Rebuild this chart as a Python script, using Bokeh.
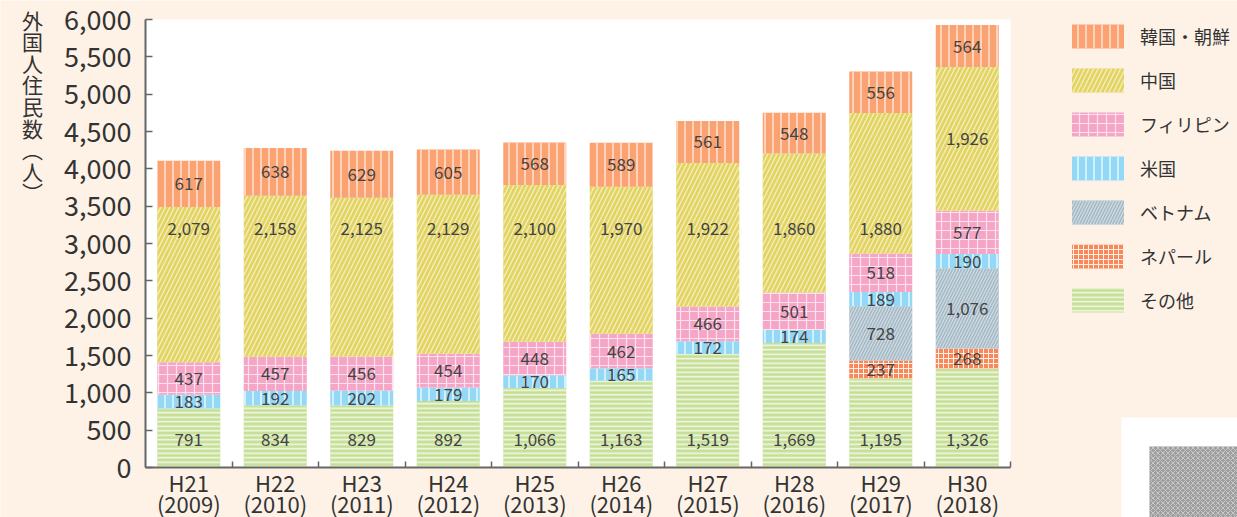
import numpy as np
from bokeh.plotting import figure
from bokeh.models import (Range1d, FixedTicker, NumeralTickFormatter, Legend,
                          LegendItem, Label, ColumnDataSource, BoxAnnotation)
from bokeh.core.properties import value
from bokeh.embed import file_html
from bokeh.resources import INLINE

# ---------------- data ----------------
eras = ["H21", "H22", "H23", "H24", "H25", "H26", "H27", "H28", "H29", "H30"]
years = ["2009", "2010", "2011", "2012", "2013", "2014", "2015", "2016", "2017", "2018"]

# stacking order bottom -> top
series = ["その他", "ネパール", "ベトナム", "米国", "フィリピン", "中国", "韓国・朝鮮"]
other = [791, 834, 829, 892, 1066, 1163, 1519, 1669, 1195, 1326]
nepal = [0, 0, 0, 0, 0, 0, 0, 0, 237, 268]
vietnam = [0, 0, 0, 0, 0, 0, 0, 0, 728, 1076]
usa = [183, 192, 202, 179, 170, 165, 172, 174, 189, 190]
philippines = [437, 457, 456, 454, 448, 462, 466, 501, 518, 577]
china = [2079, 2158, 2125, 2129, 2100, 1970, 1922, 1860, 1880, 1926]
korea = [617, 638, 629, 605, 568, 589, 561, 548, 556, 564]
values = [other, nepal, vietnam, usa, philippines, china, korea]

legend_order = ["韓国・朝鮮", "中国", "フィリピン", "米国", "ベトナム", "ネパール", "その他"]
y_ticks = [0, 500, 1000, 1500, 2000, 2500, 3000, 3500, 4000, 4500, 5000, 5500, 6000]
y_title = "外国人住民数︵人︶"

# ---------------- styles / layout ----------------
FONT = "Noto Sans CJK JP"
BG = "#FEF2E7"
TXT = "#333333"
W, H = 1237, 517
PLOT_L, PLOT_R, PLOT_T, PLOT_B = 145, 1010, 19, 467   # white plotting area in px
styles = {
    "韓国・朝鮮": dict(fill_color="#FBA272", hatch_color="#FED3BA", hatch_pattern="vertical_line", hatch_scale=8, hatch_weight=2.0),
    "中国": dict(fill_color="#E2D462", hatch_color="#F5EEBE", hatch_pattern="right_diagonal_line", hatch_scale=9, hatch_weight=1.3),
    "フィリピン": dict(fill_color="#F5A5C6", hatch_color="#FCE2EE", hatch_pattern="cross", hatch_scale=9, hatch_weight=1.2),
    "米国": dict(fill_color="#93D8F6", hatch_color="#D0F0FC", hatch_pattern="vertical_line", hatch_scale=8, hatch_weight=2.0),
    "ベトナム": dict(fill_color="#A5B9C5", hatch_color="#D3DEE5", hatch_pattern="right_diagonal_line", hatch_scale=6, hatch_weight=1.1),
    "ネパール": dict(fill_color="#F8875A", hatch_color="#FFF0E8", hatch_pattern="cross", hatch_scale=5, hatch_weight=1.0),
    "その他": dict(fill_color="#C6DF97", hatch_color="#F3F8E8", hatch_pattern="horizontal_line", hatch_scale=4.5, hatch_weight=1.5),
}

n = len(eras)
xs = np.arange(n) + 0.5

# ranges chosen so that 0..n and 0..6000 fall on the white plotting area
ppx = (PLOT_R - PLOT_L) / n
ppy = (PLOT_B - PLOT_T) / 6000.0
x_range = Range1d(-PLOT_L / ppx, (W - PLOT_L) / ppx)
y_range = Range1d(-(H - PLOT_B) / ppy, 6000 + PLOT_T / ppy)

p = figure(width=W, height=H, output_backend="svg", toolbar_location=None,
           x_range=x_range, y_range=y_range,
           min_border_left=0, min_border_right=0, min_border_top=0, min_border_bottom=0)
p.background_fill_color = BG
p.border_fill_color = BG
p.outline_line_color = None
p.xgrid.visible = False
p.ygrid.visible = False

# white plotting area
p.add_layout(BoxAnnotation(left=0, right=n, bottom=0, top=6000, fill_color="white",
                           fill_alpha=1, line_color=None, level="underlay"))

renderers = {}
label_x, label_y, label_t = [], [], []
bottom = np.zeros(n)
for name, vals in zip(series, values):
    v = np.array(vals, dtype=float)
    top = bottom + v
    src = ColumnDataSource(dict(x=xs, bottom=bottom.copy(), top=top.copy()))
    r = p.vbar(x="x", bottom="bottom", top="top", width=0.728, source=src,
               line_color=None, **styles[name])
    renderers[name] = r
    for i in range(n):
        if v[i] <= 0:
            continue
        if name == "その他":
            ly = 375
        elif name == "中国" and bottom[i] < 3000:
            ly = 3200
        else:
            ly = (bottom[i] + top[i]) / 2
        label_x.append(xs[i])
        label_y.append(ly)
        label_t.append(f"{int(v[i]):,}")
    bottom = top

p.text(x=label_x, y=label_y, text=label_t, text_align="center", text_baseline="middle",
       text_font=value(FONT), text_font_size="17px", text_color="#444444")

# y axis
ya = p.yaxis[0]
ya.fixed_location = 0
ya.bounds = (0, 6000)
ya.ticker = FixedTicker(ticks=y_ticks, minor_ticks=[])
ya.formatter = NumeralTickFormatter(format="0,0")
ya.major_label_text_font = FONT
ya.major_label_text_font_size = "27px"
ya.major_label_text_color = TXT
ya.major_tick_in = 7
ya.major_tick_out = 0
ya.major_label_standoff = 14
ya.axis_line_color = "#666666"
ya.axis_line_width = 2
ya.major_tick_line_color = "#666666"
ya.major_tick_line_width = 1.5

# x axis
xa = p.xaxis[0]
xa.fixed_location = 0
xa.bounds = (0, n)
xa.ticker = FixedTicker(ticks=list(xs), minor_ticks=list(range(1, n + 1)))
xa.major_label_overrides = {float(x): f"{e}\n({y})" for x, e, y in zip(xs, eras, years)}
xa.major_label_text_font = FONT
xa.major_label_text_font_size = "22px"
xa.major_label_text_line_height = 0.66
xa.major_label_text_color = TXT
xa.major_label_standoff = -2
xa.major_tick_in = 0
xa.major_tick_out = 0
xa.minor_tick_in = 6
xa.minor_tick_out = 0
xa.minor_tick_line_color = "#666666"
xa.minor_tick_line_width = 1.5
xa.axis_line_color = "#666666"
xa.axis_line_width = 2

# y title, stacked vertical characters
p.add_layout(Label(x=32, y=H - 4, x_units="screen", y_units="screen",
                   text="\n".join(y_title),
                   text_font=FONT, text_font_size="21px", text_color=TXT,
                   text_align="center", text_baseline="top", text_line_height=0.72))

# legend
items = [LegendItem(label=nm, renderers=[renderers[nm]]) for nm in legend_order]
legend = Legend(items=items, location=(1065, H - 21 - 294), glyph_width=65, glyph_height=30,
                spacing=14, padding=0, margin=0, label_standoff=10,
                label_text_font=FONT, label_text_font_size="18px", label_text_color=TXT,
                label_height=30, border_line_color=None, background_fill_alpha=0)
p.add_layout(legend, "center")

# bottom-right fragment of another element (white card with a grey picture)
p.add_layout(BoxAnnotation(left=1121, right=W + 10, top=H - 417, bottom=-10,
                           left_units="screen", right_units="screen",
                           top_units="screen", bottom_units="screen",
                           fill_color="white", fill_alpha=1, line_color=None))
p.add_layout(BoxAnnotation(left=1149, right=W + 10, top=H - 446, bottom=-10,
                           left_units="screen", right_units="screen",
                           top_units="screen", bottom_units="screen",
                           fill_color="#9E9E9E", fill_alpha=1, line_color=None,
                           hatch_pattern="diagonal_cross", hatch_color="#C8C8C8",
                           hatch_scale=5, hatch_weight=1))

open("out.html", "w").write(file_html(p, INLINE))
